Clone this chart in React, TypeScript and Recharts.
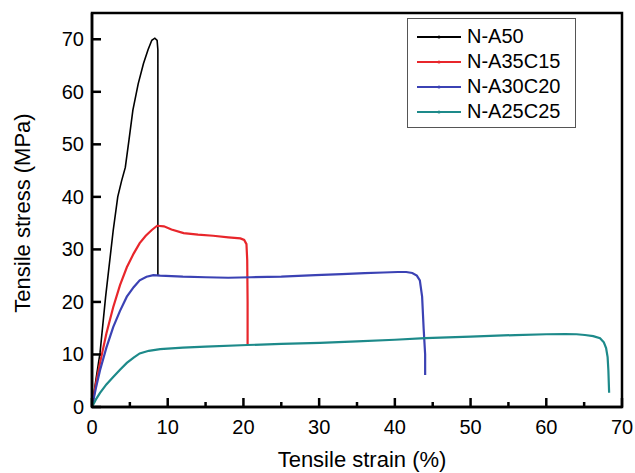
import React from "react";
import { LineChart, Line, XAxis, YAxis, ReferenceArea } from "recharts";

// strain (%) / stress (MPa)
const na50Strain = [0, 0.5, 1.06, 1.8, 2.8, 3.4, 3.9, 4.4, 4.9, 5.4, 6.1, 6.8, 7.4, 7.9, 8.3, 8.6, 8.7, 8.7];
const na50Stress = [0, 5, 10.3, 21, 33.6, 40, 43, 45.6, 51, 56.5, 61.5, 65.4, 68, 69.8, 70.2, 69.8, 68, 25];

const na35Strain = [0, 0.5, 1.06, 1.9, 2.8, 3.7, 4.6, 5.5, 6.3, 7.1, 7.9, 8.6, 9.5, 10.5, 12.1, 14, 16, 18, 19.6, 20.1, 20.4, 20.5, 20.55, 20.55];
const na35Stress = [0, 4.3, 8.4, 14, 19, 23.2, 26.6, 29.2, 31.2, 32.6, 33.7, 34.5, 34.4, 33.8, 33.1, 32.8, 32.6, 32.3, 32.1, 31.8, 31, 28, 20, 11.8];

const na30Strain = [0, 0.5, 1.06, 1.9, 2.8, 3.7, 4.6, 5.5, 6.3, 7.2, 8.1, 9, 12, 15, 18, 21, 25, 29.5, 33, 36, 38.5, 40.4, 41.5, 42.3, 42.9, 43.3, 43.6, 43.8, 44, 44];
const na30Stress = [0, 3.5, 7, 11.3, 15.2, 18.3, 21, 22.8, 24.1, 24.8, 25.1, 25.0, 24.8, 24.7, 24.6, 24.7, 24.8, 25.1, 25.3, 25.5, 25.6, 25.7, 25.7, 25.5, 25, 24.1, 21, 15, 10, 6.1];

const na25Strain = [0, 0.5, 1.06, 1.9, 2.8, 3.7, 4.6, 5.5, 6.3, 7.5, 9, 12, 15, 20.5, 25, 30.1, 35, 40, 44, 50, 55.9, 60, 62.5, 64, 65.1, 66.2, 67.1, 67.6, 67.9, 68.1, 68.2, 68.3];
const na25Stress = [0, 1.4, 2.7, 4.3, 5.7, 7.1, 8.4, 9.4, 10.2, 10.7, 11, 11.3, 11.5, 11.8, 12, 12.2, 12.5, 12.8, 13.1, 13.4, 13.7, 13.85, 13.9, 13.85, 13.7, 13.5, 13.1, 12.3, 11.2, 9.5, 7, 2.7];

const seriesNames = ["N-A50", "N-A35C15", "N-A30C20", "N-A25C25"];
const seriesColors = ["#000000", "#e8262b", "#3b42b4", "#1d8a8a"];
const seriesWidths = [1.6, 2.2, 2.2, 2.2];

const xTicks = [0, 5, 10, 15, 20, 25, 30, 35, 40, 45, 50, 55, 60, 65, 70];
const yTicks = [0, 10, 20, 30, 40, 50, 60, 70];

const toPoints = (xs: number[], ys: number[]) => xs.map((x, i) => ({ x, y: ys[i] }));

const series = [
  toPoints(na50Strain, na50Stress),
  toPoints(na35Strain, na35Stress),
  toPoints(na30Strain, na30Stress),
  toPoints(na25Strain, na25Stress),
];

const FONT = "Arial, 'Liberation Sans', sans-serif";

function XTick({ x, y, payload }: any) {
  const major = payload.value % 10 === 0;
  return (
    <g>
      <line x1={x} x2={x} y1={y} y2={y - (major ? 9 : 5)} stroke="#000" strokeWidth={2.5} />
      {major && (
        <text x={x} y={y + 19.5} textAnchor="middle" dominantBaseline="central" fontSize={20} fill="#000" fontFamily={FONT}>
          {payload.value}
        </text>
      )}
    </g>
  );
}

function YTick({ x, y, payload }: any) {
  return (
    <g>
      <line x1={x} x2={x + 9} y1={y} y2={y} stroke="#000" strokeWidth={2.5} />
      <text x={x - 8} y={y} textAnchor="end" dominantBaseline="central" fontSize={20} fill="#000" fontFamily={FONT}>
        {payload.value}
      </text>
    </g>
  );
}

function XTitle() {
  return (
    <text x={362} y={467} textAnchor="middle" fontSize={22} fill="#000" fontFamily={FONT}>
      Tensile strain (%)
    </text>
  );
}

function YTitle() {
  return (
    <text x={30} y={213} transform="rotate(-90 30 213)" textAnchor="middle" fontSize={22} fill="#000" fontFamily={FONT}>
      Tensile stress (MPa)
    </text>
  );
}

function LegendBox() {
  return (
    <div
      style={{
        position: "absolute",
        left: 407,
        top: 18,
        border: "1px solid #555",
        background: "#fff",
        width: 169,
        height: 110,
        boxSizing: "border-box",
        padding: "5px 0 0 9px",
        fontFamily: FONT,
        fontSize: 20,
      }}
    >
      {seriesNames.map((name, i) => (
        <div key={name} style={{ display: "flex", alignItems: "center", height: 25 }}>
          <svg width={44} height={10} style={{ marginRight: 6 }}>
            <line x1={0} x2={44} y1={5} y2={5} stroke={seriesColors[i]} strokeWidth={2} />
            <circle cx={22} cy={5} r={1.6} fill={seriesColors[i]} />
          </svg>
          <span style={{ color: "#000" }}>{name}</span>
        </div>
      ))}
    </div>
  );
}

export default function App() {
  return (
    <div style={{ position: "relative", width: 635, height: 473, fontFamily: FONT }}>
      <style>{"body{margin:0;overflow:hidden}"}</style>
      <LineChart width={635} height={473} margin={{ top: 13, right: 13, left: 0, bottom: 0 }}>
        <XAxis
          type="number"
          dataKey="x"
          domain={[0, 70]}
          ticks={xTicks}
          interval={0}
          tickSize={0}
          tickMargin={0}
          tickLine={false}
          tick={<XTick />}
          axisLine={{ stroke: "#000", strokeWidth: 2.5 }}
          height={66}
          label={<XTitle />}
        />
        <YAxis
          type="number"
          dataKey="y"
          domain={[0, 75]}
          ticks={yTicks}
          interval={0}
          tickSize={0}
          tickMargin={0}
          tickLine={false}
          tick={<YTick />}
          axisLine={{ stroke: "#000", strokeWidth: 2.5 }}
          width={92}
          label={<YTitle />}
        />
        <ReferenceArea x1={0} x2={70} y1={0} y2={75} fill="none" stroke="#000" strokeWidth={2.5} ifOverflow="visible" />
        {series.map((pts, i) => (
          <Line
            key={seriesNames[i]}
            data={pts}
            dataKey="y"
            name={seriesNames[i]}
            type="linear"
            stroke={seriesColors[i]}
            strokeWidth={seriesWidths[i]}
            dot={false}
            isAnimationActive={false}
          />
        ))}
      </LineChart>
      <LegendBox />
    </div>
  );
}
